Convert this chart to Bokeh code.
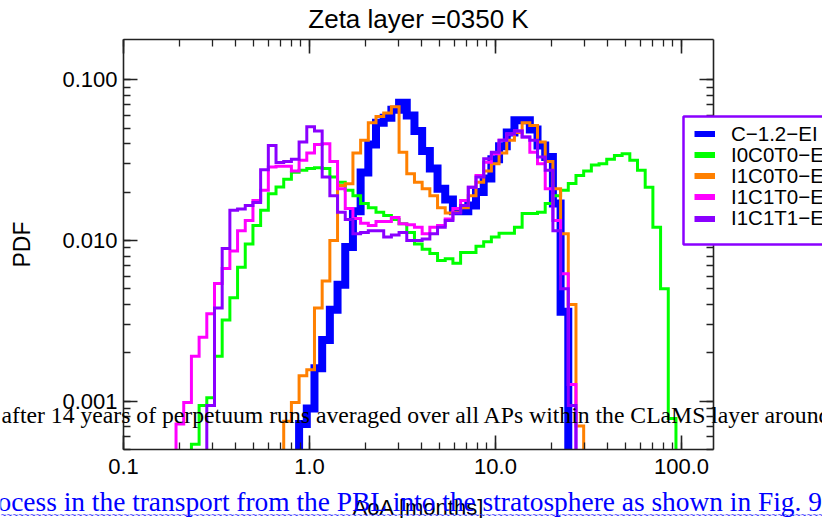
import math
import numpy as np
from bokeh.plotting import figure
from bokeh.models import (Range1d, LogAxis, LogTicker, PrintfTickFormatter,
                          CustomJSTickFormatter, Label, Legend, LegendItem,
                          BoxAnnotation)
from bokeh.embed import file_html
from bokeh.resources import INLINE

# ---------------- data (PDF per logarithmic AoA bin) ----------------
LOG_FIRST_EDGE = -1.007      # log10 of the left edge of bin 0 (months)
LOG_BIN_WIDTH = 0.04135      # bin width in log10(months)

series_names = ["C\u22121.2\u2212EI", "I0C0T0\u2212EI", "I1C0T0\u2212EI",
                "I1C1T0\u2212EI", "I1C1T1\u2212EI"]
series_colors = ["#0000ff", "#00ff00", "#ff8000", "#ff00ff", "#8a00ff"]

c12_first_bin = 23
c12_pdf = [0.00072, 0.00090, 0.0016, 0.0024, 0.0037, 0.0053, 0.0091, 0.0152,
           0.0265, 0.0396, 0.0540, 0.0580, 0.0650, 0.0720, 0.0600, 0.0480,
           0.0360, 0.0280, 0.0210, 0.0180, 0.0152, 0.0152, 0.0165, 0.0200,
           0.0243, 0.0320, 0.0385, 0.0470, 0.0560, 0.0560, 0.0490, 0.0390,
           0.0330, 0.0170, 0.0036]

i0c0t0_first_bin = 9
i0c0t0_pdf = [0.00054, 0.00094, 0.00105, 0.0019, 0.0032, 0.0044, 0.0068,
              0.0095, 0.0124, 0.0154, 0.0195, 0.0215, 0.0240, 0.0266, 0.0273,
              0.0280, 0.0283, 0.0280, 0.0248, 0.0230, 0.0205, 0.0190, 0.0170,
              0.0160, 0.0150, 0.0143, 0.0135, 0.0127, 0.0112, 0.0095, 0.0088,
              0.0083, 0.0075, 0.0077, 0.0072, 0.0084, 0.0084, 0.0092, 0.0098,
              0.0105, 0.0111, 0.0111, 0.0121, 0.0147, 0.0147, 0.0150, 0.0170,
              0.0190, 0.0205, 0.0226, 0.0254, 0.0270, 0.0295, 0.0300, 0.0320,
              0.0338, 0.0346, 0.0315, 0.0273, 0.0214, 0.0121, 0.0050, 0.00078]

i1c0t0_first_bin = 21
i1c0t0_pdf = [0.00075, 0.00098, 0.00144, 0.00157, 0.0038, 0.0056, 0.0100,
              0.0220, 0.0225, 0.0350, 0.0420, 0.0540, 0.0590, 0.0620, 0.0680,
              0.0354, 0.0260, 0.0230, 0.0210, 0.0190, 0.0160, 0.0148, 0.0150,
              0.0160, 0.0190, 0.0230, 0.0270, 0.0300, 0.0350, 0.0420, 0.0470,
              0.0540, 0.0520, 0.0410, 0.0310, 0.0210, 0.0110, 0.0040, 0.00070]

i1c1t0_first_bin = 7
i1c1t0_pdf = [0.00072, 0.00098, 0.0019, 0.0025, 0.0035, 0.0054, 0.0067,
              0.0086, 0.0115, 0.0133, 0.0177, 0.0205, 0.0286, 0.0290, 0.0290,
              0.0270, 0.0315, 0.0350, 0.0395, 0.0400, 0.0310, 0.0210, 0.0158,
              0.0137, 0.0128, 0.0124, 0.0131, 0.0131, 0.0139, 0.0127, 0.0125,
              0.0121, 0.0110, 0.0121, 0.0124, 0.0136, 0.0158, 0.0177, 0.0214,
              0.0254, 0.0307, 0.0346, 0.0420, 0.0460, 0.0480, 0.0440, 0.0354,
              0.0300, 0.0210, 0.0133, 0.0062, 0.00127]

i1c1t1_first_bin = 11
i1c1t1_pdf = [0.00094, 0.0038, 0.0089, 0.0154, 0.0157, 0.0165, 0.0172,
              0.0275, 0.0390, 0.0305, 0.0310, 0.0320, 0.0410, 0.0510, 0.0480,
              0.0248, 0.0190, 0.0150, 0.0135, 0.0110, 0.0112, 0.0115, 0.0115,
              0.0105, 0.0108, 0.0112, 0.0100, 0.0100, 0.0102, 0.0110, 0.0121,
              0.0133, 0.0148, 0.0165, 0.0214, 0.0248, 0.0322, 0.0354, 0.0420,
              0.0460, 0.0480, 0.0440, 0.0420, 0.0330, 0.0273, 0.0115, 0.0050,
              0.00094]

series_first_bins = [c12_first_bin, i0c0t0_first_bin, i1c0t0_first_bin,
                     i1c1t0_first_bin, i1c1t1_first_bin]
series_pdfs = [c12_pdf, i0c0t0_pdf, i1c0t0_pdf, i1c1t0_pdf, i1c1t1_pdf]
series_widths = [8, 3, 3, 3, 3]

# axis box limits (data) and tick label formats
X_BOX = (0.1, 148.6)
Y_BOX = (0.0005, 0.178)
x_tick_format = "%.1f"
y_tick_format = "%.3f"

# ---------------- layout (pixels) ----------------
W, H = 822, 518
BOX_L, BOX_R, BOX_T, BOX_B = 123, 713, 39, 449
BASELINE_SHIFT = 0.37   # em; compensates the renderer's baseline placement
LEG_L, LEG_T, LEG_B = 683, 116, 244     # legend frame (page pixels)
LEG_ROW0, LEG_PITCH = 134, 21.1         # legend row centres (page pixels)
LEG_ROW_H = 23.3                        # height of one legend row

x_ppd = (BOX_R - BOX_L) / math.log10(X_BOX[1] / X_BOX[0])
y_ppd = (BOX_B - BOX_T) / math.log10(Y_BOX[1] / Y_BOX[0])
x_start = 10 ** (math.log10(X_BOX[0]) - BOX_L / x_ppd)
x_end = 10 ** (math.log10(X_BOX[1]) + (W - BOX_R) / x_ppd)
y_start = 10 ** (math.log10(Y_BOX[0]) - (H - BOX_B) / y_ppd)
y_end = 10 ** (math.log10(Y_BOX[1]) + BOX_T / y_ppd)


def step_xy(first_bin, vals):
    k = np.arange(first_bin, first_bin + len(vals) + 1)
    edges = 10.0 ** (LOG_FIRST_EDGE + LOG_BIN_WIDTH * k)
    xs = np.concatenate([[edges[0]], edges])
    ys = np.concatenate([[Y_BOX[0]], np.asarray(vals, float), [Y_BOX[0]]])
    return xs, ys


p = figure(width=W, height=H, x_axis_type="log", y_axis_type="log",
           x_range=Range1d(x_start, x_end), y_range=Range1d(y_start, y_end),
           output_backend="svg", toolbar_location=None, title=None,
           min_border=0)
p.outline_line_color = None
p.xgrid.visible = False
p.ygrid.visible = False
p.background_fill_color = "white"
p.border_fill_color = "white"

for fb, vals, col, lw in zip(series_first_bins, series_pdfs, series_colors, series_widths):
    xs, ys = step_xy(fb, vals)
    p.step(xs, ys, mode="after", line_color=col, line_width=lw, line_join="miter")

AX_COL = "#222222"
LABEL_FONT = "Liberation Sans"


def style_axis(ax):
    ax.axis_line_color = AX_COL
    ax.axis_line_width = 1.6
    ax.major_tick_in = 14
    ax.major_tick_out = 0
    ax.minor_tick_in = 7
    ax.minor_tick_out = 0
    ax.major_tick_line_color = AX_COL
    ax.minor_tick_line_color = AX_COL
    ax.major_tick_line_width = 1.6
    ax.minor_tick_line_width = 1.3
    ax.major_label_text_font = LABEL_FONT
    ax.major_label_text_font_size = "22px"
    ax.major_label_text_color = "black"
    ax.axis_label_text_font = LABEL_FONT
    ax.axis_label_text_font_style = "normal"
    ax.axis_label_text_color = "black"


bottom = p.below[0]
left = p.left[0]
style_axis(bottom)
style_axis(left)
bottom.fixed_location = Y_BOX[0]
bottom.bounds = X_BOX
left.fixed_location = X_BOX[0]
left.bounds = Y_BOX
bottom.formatter = PrintfTickFormatter(format=x_tick_format)
left.formatter = PrintfTickFormatter(format=y_tick_format)
bottom.major_label_standoff = 9
left.major_label_standoff = 6
bottom.axis_label = "AoA [months]"
left.axis_label = "PDF"
bottom.axis_label_text_font_size = "22px"
left.axis_label_text_font_size = "23px"
bottom.axis_label_standoff = 18
left.axis_label_standoff = 24

top = LogAxis(ticker=LogTicker(num_minor_ticks=10), fixed_location=Y_BOX[1], bounds=X_BOX)
right = LogAxis(ticker=LogTicker(num_minor_ticks=10), fixed_location=X_BOX[1], bounds=Y_BOX)
for ax in (top, right):
    style_axis(ax)
    ax.formatter = CustomJSTickFormatter(code="return ''")
    ax.major_label_text_font_size = "0px"
    ax.major_label_standoff = 0
p.add_layout(top, "above")
p.add_layout(right, "right")

# legend: framed box with one row per series (uniform swatches)
p.add_layout(BoxAnnotation(left=LEG_L, right=W + 40, top=H - LEG_T, bottom=H - LEG_B,
                           left_units="screen", right_units="screen",
                           top_units="screen", bottom_units="screen",
                           fill_color="white", fill_alpha=1.0,
                           line_color="#8a00ff", line_width=2.5, line_alpha=1.0))
nan = float("nan")
for i, (name, col) in enumerate(zip(series_names, series_colors)):
    r = p.line(x=[nan], y=[nan], line_color=col, line_width=6)
    row_bottom = LEG_ROW0 + i * LEG_PITCH + LEG_ROW_H / 2
    p.add_layout(Legend(items=[LegendItem(label=name, renderers=[r])],
                        location=(LEG_L + 11, H - row_bottom),
                        border_line_color=None, background_fill_alpha=0.0,
                        padding=0, spacing=0, margin=0, label_height=21,
                        glyph_height=21, glyph_width=21, label_standoff=16,
                        label_text_font=LABEL_FONT, label_text_font_size="20.5px",
                        label_text_color="black"))


def page_label(text, x, baseline, size, font, color, align="left"):
    fs = float(size.replace("px", ""))
    return Label(x=x, y=H - baseline + BASELINE_SHIFT * fs,
                 x_units="screen", y_units="screen", text=text,
                 text_align=align, text_baseline="alphabetic",
                 text_font=font, text_font_size=size, text_color=color)


# title
p.add_layout(page_label("Zeta layer =0350 K", (BOX_L + BOX_R) / 2, 28, "26px",
                        LABEL_FONT, "black", align="center"))

# text of the surrounding page that overlaps the figure
p.add_layout(page_label("after 14 years of perpetuum runs averaged over all APs within the CLaMS layer around",
                        1, 423, "23.7px", "Liberation Serif", "black"))
p.add_layout(page_label("ocess in the transport from the PBL into the stratosphere as shown in Fig. 9",
                        -3, 512, "27.4px", "Liberation Serif", "#0000ff"))
p.add_layout(page_label("~" * 160, 0, 519, "10px", "Liberation Sans", "#3333ff"))

open("out.html", "w").write(file_html(p, INLINE))
